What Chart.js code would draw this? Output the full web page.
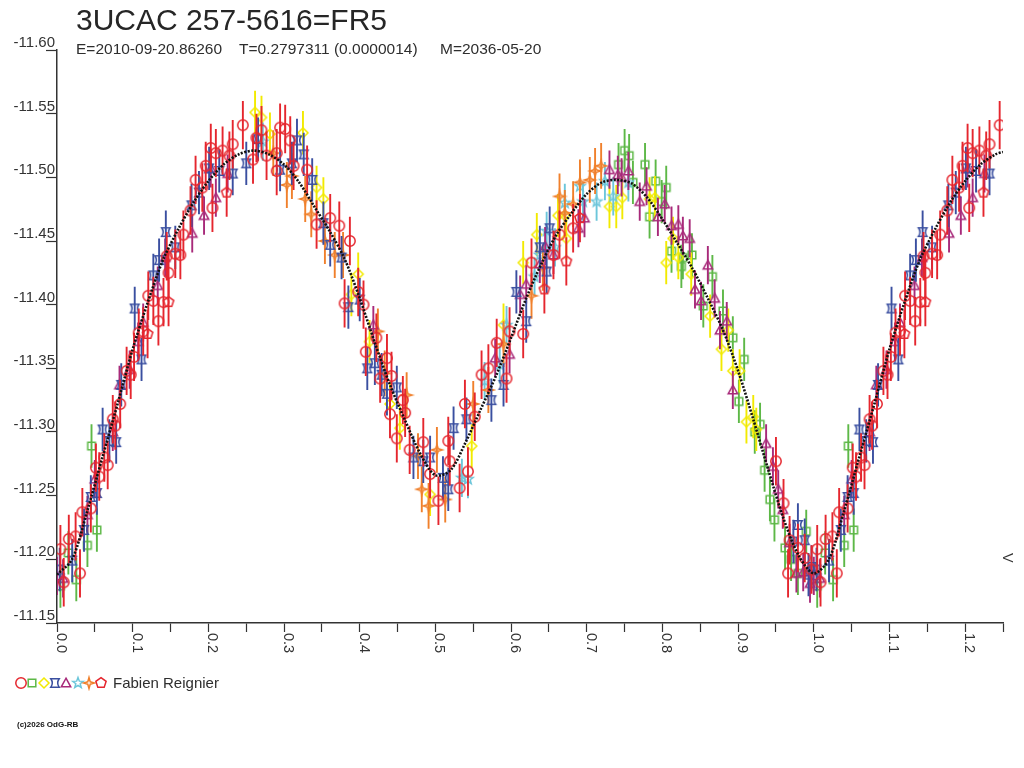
<!DOCTYPE html>
<html>
<head>
<meta charset="utf-8">
<title>3UCAC 257-5616=FR5</title>
<script src="https://cdn.jsdelivr.net/npm/chart.js@4.4.1/dist/chart.umd.min.js"></script>
<style>
  html, body { margin: 0; padding: 0; background: #fff; }
  #wrap { position: relative; width: 1024px; height: 768px; overflow: hidden; font-family: "Liberation Sans", Arial, sans-serif; }
  #lc { position: absolute; left: 0; top: 0; width: 1024px; height: 768px; }
  .txt { position: absolute; white-space: pre; color: #2e2e2e; }
  #title { left: 76px; top: 5px; font-size: 30px; line-height: 30px; color: #262626; }
  .sub { top: 41px; font-size: 15.5px; line-height: 15.5px; }
  #observer { left: 113px; top: 675px; font-size: 15px; line-height: 15px; }
  #copy { left: 17px; top: 721px; font-size: 8px; line-height: 8px; font-weight: bold; color: #111; }
</style>
</head>
<body>
<div id="wrap">
  <canvas id="lc" width="1024" height="768"></canvas>
  <div class="txt" id="title">3UCAC 257-5616=FR5</div>
  <div class="txt sub" style="left:76px">E=2010-09-20.86260</div>
  <div class="txt sub" style="left:239px">T=0.2797311 (0.0000014)</div>
  <div class="txt sub" style="left:440px">M=2036-05-20</div>
  <div class="txt" id="observer">Fabien Reignier</div>
  <div class="txt" id="copy">(c)2026 OdG-RB</div>
</div>
<script>
/* ================================================================
   Light curve, phase folded (period 0.2797311 d)
   ================================================================ */

/* --- Axes --- */
const xTicks = [0, 0.05, 0.1, 0.15, 0.2, 0.25, 0.3, 0.35, 0.4, 0.45, 0.5, 0.55, 0.6, 0.65,
    0.7, 0.75, 0.8, 0.85, 0.9, 0.95, 1.0, 1.05, 1.1, 1.15, 1.2, 1.25];
const xLabelValues = [0, 0.1, 0.2, 0.3, 0.4, 0.5, 0.6, 0.7, 0.8, 0.9, 1.0, 1.1, 1.2];
const xLabels = ['0.0', '0.1', '0.2', '0.3', '0.4', '0.5', '0.6', '0.7', '0.8', '0.9', '1.0', '1.1', '1.2'];
const yTicks = [-11.60, -11.55, -11.50, -11.45, -11.40, -11.35, -11.30, -11.25, -11.20, -11.15];
const bandName = 'V';

/* --- Fit curve --- */
const fitPhase = [0, 0.02, 0.04, 0.06, 0.08, 0.10, 0.12, 0.14, 0.16, 0.18, 0.20, 0.22, 0.24, 0.26, 0.28,
    0.30, 0.32, 0.34, 0.36, 0.38, 0.40, 0.42, 0.44, 0.46, 0.48, 0.50, 0.52, 0.54, 0.56, 0.58,
    0.60, 0.62, 0.64, 0.66, 0.68, 0.70, 0.72, 0.74, 0.76, 0.78, 0.80, 0.82, 0.84, 0.86, 0.88,
    0.90, 0.92, 0.94, 0.96, 0.98, 1.00, 1.02, 1.04, 1.06, 1.08, 1.10, 1.12, 1.14, 1.16, 1.18,
    1.20, 1.22, 1.24, 1.25];
const fitMag = [-11.188, -11.200, -11.238, -11.280, -11.322, -11.365, -11.402, -11.435, -11.459, -11.480,
    -11.497, -11.510, -11.518, -11.521, -11.518, -11.510, -11.496, -11.477, -11.458, -11.436,
    -11.405, -11.370, -11.337, -11.309, -11.283, -11.266, -11.270, -11.292, -11.318, -11.344,
    -11.374, -11.405, -11.432, -11.455, -11.472, -11.487, -11.496, -11.498, -11.495, -11.484,
    -11.467, -11.448, -11.428, -11.405, -11.380, -11.348, -11.310, -11.270, -11.232, -11.203,
    -11.189, -11.200, -11.238, -11.280, -11.322, -11.365, -11.402, -11.435, -11.459, -11.480,
    -11.497, -11.510, -11.518, -11.520];

/* --- Observations (phase 0..1, repeated past 1 up to 1.25) --- */
const circlePhase = [0.0045, 0.0089, 0.0156, 0.0246, 0.0304, 0.0335, 0.0447, 0.0514, 0.0558, 0.0625,
    0.0670, 0.0737, 0.0835, 0.0974, 0.1018, 0.1139, 0.1206, 0.1273, 0.1340, 0.1407,
    0.1474, 0.1563, 0.1630, 0.1764, 0.1831, 0.1920, 0.1965, 0.2032, 0.2054, 0.2099,
    0.2188, 0.2278, 0.2322, 0.2456, 0.2590, 0.2635, 0.2702, 0.2769, 0.2903, 0.2948,
    0.3015, 0.3082, 0.2903, 0.3126, 0.3305, 0.343, 0.361, 0.373, 0.387, 0.380,
    0.398, 0.405, 0.408, 0.422, 0.427, 0.436, 0.442, 0.440, 0.449, 0.457,
    0.460, 0.466, 0.484, 0.493, 0.504, 0.517, 0.519, 0.532, 0.539, 0.543,
    0.552, 0.561, 0.570, 0.581, 0.594, 0.598, 0.616, 0.627, 0.656, 0.664,
    0.682, 0.950, 0.960, 0.966, 0.968, 0.979, 0.988, 0.997, 0.167, 0.145,
    0.108, 0.092, 0.077];
const circleMag = [-11.208, -11.182, -11.216, -11.218, -11.189, -11.237, -11.240, -11.272, -11.265, -11.280,
    -11.274, -11.310, -11.322, -11.345, -11.359, -11.379, -11.407, -11.403, -11.387, -11.402,
    -11.425, -11.440, -11.439, -11.474, -11.498, -11.492, -11.509, -11.523, -11.476, -11.519,
    -11.521, -11.517, -11.526, -11.541, -11.514, -11.531, -11.537, -11.517, -11.519, -11.539,
    -11.538, -11.529, -11.505, -11.509, -11.506, -11.463, -11.468, -11.462, -11.450, -11.401,
    -11.410, -11.400, -11.363, -11.374, -11.342, -11.358, -11.344, -11.314, -11.295, -11.325,
    -11.315, -11.286, -11.292, -11.267, -11.246, -11.293, -11.277, -11.256, -11.322, -11.269,
    -11.312, -11.345, -11.350, -11.370, -11.342, -11.379, -11.377, -11.433, -11.439, -11.455,
    -11.460, -11.277, -11.244, -11.189, -11.215, -11.209, -11.201, -11.192, -11.455, -11.438,
    -11.378, -11.348, -11.305];
const circleErr = 0.019;

const squarePhase = [0.0045, 0.0150, 0.0255, 0.0402, 0.0456, 0.0527, 0.742, 0.750, 0.756, 0.761,
    0.777, 0.783, 0.791, 0.799, 0.805, 0.812, 0.825, 0.827, 0.839, 0.854,
    0.866, 0.880, 0.893, 0.901, 0.908, 0.922, 0.929, 0.935, 0.942, 0.948,
    0.962, 0.970, 0.979, 0.990];
const squareMag = [-11.179, -11.205, -11.184, -11.211, -11.289, -11.223, -11.510, -11.521, -11.517, -11.496,
    -11.510, -11.469, -11.497, -11.481, -11.492, -11.442, -11.430, -11.437, -11.439, -11.399,
    -11.422, -11.395, -11.374, -11.324, -11.357, -11.300, -11.306, -11.270, -11.247, -11.231,
    -11.209, -11.200, -11.189, -11.222];
const squareErr = 0.017;

const diamondPhase = [0.2617, 0.2702, 0.2814, 0.325, 0.343, 0.352, 0.389, 0.398, 0.413, 0.440,
    0.453, 0.493, 0.548, 0.590, 0.616, 0.634, 0.662, 0.671, 0.673, 0.730,
    0.739, 0.747, 0.783, 0.790, 0.805, 0.814, 0.821, 0.838, 0.863, 0.878,
    0.887, 0.893, 0.902, 0.911, 0.920, 0.924];
const diamondMag = [-11.551, -11.547, -11.534, -11.535, -11.492, -11.483, -11.408, -11.424, -11.371, -11.322,
    -11.303, -11.251, -11.289, -11.384, -11.433, -11.455, -11.470, -11.470, -11.452, -11.477,
    -11.477, -11.484, -11.483, -11.484, -11.433, -11.452, -11.437, -11.424, -11.391, -11.365,
    -11.380, -11.348, -11.348, -11.308, -11.312, -11.302];
const diamondErr = 0.017;

const bowtiePhase = [0.0036, 0.0201, 0.0357, 0.0447, 0.0527, 0.0603, 0.0692, 0.0782, 0.0849, 0.1027,
    0.1117, 0.1273, 0.1349, 0.1438, 0.1563, 0.1778, 0.1876, 0.2010, 0.2144, 0.2322,
    0.2501, 0.2657, 0.2948, 0.3104, 0.3171, 0.3260, 0.3372, 0.352, 0.361, 0.376,
    0.385, 0.400, 0.410, 0.420, 0.429, 0.436, 0.449, 0.471, 0.484, 0.493,
    0.510, 0.517, 0.524, 0.541, 0.574, 0.590, 0.607, 0.620, 0.638, 0.647,
    0.651, 0.973, 0.979, 0.988, 0.993, 0.997];
const bowtieMag = [-11.192, -11.199, -11.223, -11.249, -11.252, -11.302, -11.293, -11.292, -11.337, -11.397,
    -11.357, -11.423, -11.435, -11.457, -11.445, -11.478, -11.488, -11.507, -11.505, -11.503,
    -11.511, -11.530, -11.506, -11.511, -11.529, -11.518, -11.498, -11.464, -11.447, -11.437,
    -11.398, -11.404, -11.350, -11.354, -11.345, -11.330, -11.335, -11.280, -11.277, -11.280,
    -11.264, -11.255, -11.303, -11.310, -11.325, -11.337, -11.410, -11.387, -11.445, -11.426,
    -11.460, -11.214, -11.227, -11.215, -11.188, -11.194];
const bowtieErr = 0.017;

const trianglePhase = [0.0000, 0.0080, 0.0402, 0.0500, 0.0737, 0.0826, 0.0960, 0.1072, 0.1139, 0.1331,
    0.1429, 0.1787, 0.1943, 0.2032, 0.2099, 0.2255, 0.418, 0.579, 0.598, 0.612,
    0.620, 0.638, 0.645, 0.656, 0.689, 0.697, 0.730, 0.741, 0.746, 0.755,
    0.770, 0.779, 0.794, 0.803, 0.812, 0.821, 0.827, 0.836, 0.843, 0.851,
    0.860, 0.869, 0.876, 0.885, 0.893, 0.937, 0.946, 0.953, 0.959, 0.968,
    0.977, 0.986, 0.995];
const triangleMag = [-11.187, -11.185, -11.235, -11.263, -11.300, -11.337, -11.349, -11.371, -11.386, -11.415,
    -11.437, -11.456, -11.470, -11.507, -11.484, -11.503, -11.384, -11.358, -11.361, -11.408,
    -11.416, -11.432, -11.446, -11.439, -11.460, -11.468, -11.506, -11.502, -11.500, -11.505,
    -11.481, -11.493, -11.469, -11.479, -11.462, -11.463, -11.454, -11.452, -11.412, -11.403,
    -11.431, -11.405, -11.380, -11.387, -11.333, -11.291, -11.273, -11.255, -11.239, -11.213,
    -11.189, -11.190, -11.181];
const triangleErr = 0.015;

const starPhase = [0.272, 0.535, 0.543, 0.565, 0.585, 0.594, 0.631, 0.638, 0.647, 0.658,
    0.671, 0.691, 0.695, 0.713, 0.724, 0.735, 0.755];
const starMag = [-11.528, -11.264, -11.263, -11.340, -11.353, -11.384, -11.422, -11.439, -11.458, -11.445,
    -11.480, -11.493, -11.481, -11.481, -11.497, -11.485, -11.496];
const starErr = 0.015;

const sparkPhase = [0.2858, 0.3037, 0.3104, 0.328, 0.336, 0.354, 0.367, 0.378, 0.424, 0.433,
    0.462, 0.477, 0.482, 0.491, 0.502, 0.513, 0.550, 0.570, 0.590, 0.627,
    0.642, 0.664, 0.671, 0.682, 0.691, 0.704, 0.711, 0.719];
const sparkMag = [-11.519, -11.494, -11.501, -11.483, -11.471, -11.450, -11.439, -11.439, -11.379, -11.346,
    -11.329, -11.281, -11.255, -11.242, -11.286, -11.247, -11.322, -11.333, -11.369, -11.407,
    -11.429, -11.485, -11.472, -11.479, -11.496, -11.498, -11.505, -11.509];
const sparkErr = 0.018;

const pentagonPhase = [0.1197, 0.1474, 0.2242, 0.644, 0.673, 0.691];
const pentagonMag = [-11.377, -11.402, -11.488, -11.412, -11.434, -11.468];
const pentagonErr = 0.019;

/* --- Symboles --- */
function makeSymbol(shape, color) {
    const c = document.createElement('canvas');
    c.width = 16; c.height = 16;
    const g = c.getContext('2d');
    g.translate(8, 8);
    g.strokeStyle = color;
    g.lineWidth = 1.5;
    g.beginPath();
    const poly = (pts) => { pts.forEach((p, i) => i ? g.lineTo(p[0], p[1]) : g.moveTo(p[0], p[1])); g.closePath(); };
    const radial = (n, rOut, rIn, start) => {
        const pts = [];
        const k = rIn ? 2 * n : n;
        for (let i = 0; i < k; i++) {
            const r = rIn && i % 2 ? rIn : rOut;
            const a = start + i * 2 * Math.PI / k;
            pts.push([r * Math.cos(a), r * Math.sin(a)]);
        }
        poly(pts);
    };
    switch (shape) {
        case 'circle': g.arc(0, 0, 5.2, 0, 2 * Math.PI); break;
        case 'square': g.rect(-3.8, -3.8, 7.6, 7.6); break;
        case 'diamond': poly([[0, -5], [5, 0], [0, 5], [-5, 0]]); break;
        case 'bowtie':
            g.moveTo(-4.2, -4.2); g.lineTo(4.2, -4.2);
            g.quadraticCurveTo(1.2, 0, 4.2, 4.2);
            g.lineTo(-4.2, 4.2);
            g.quadraticCurveTo(-1.2, 0, -4.2, -4.2);
            g.closePath();
            break;
        case 'triangle': poly([[0, -4.8], [4.7, 3.8], [-4.7, 3.8]]); break;
        case 'star': radial(5, 5.5, 2.3, -Math.PI / 2); break;
        case 'spark': radial(4, 5.6, 1.7, -Math.PI / 2); break;
        case 'pentagon': radial(5, 5.4, 0, -Math.PI / 2); break;
    }
    g.stroke();
    return c;
}

const series = [
    { phase: circlePhase, mag: circleMag, err: circleErr, shape: 'circle', color: '#e5262e' },
    { phase: pentagonPhase, mag: pentagonMag, err: pentagonErr, shape: 'pentagon', color: '#e5262e' },
    { phase: bowtiePhase, mag: bowtieMag, err: bowtieErr, shape: 'bowtie', color: '#3a4fa0' },
    { phase: trianglePhase, mag: triangleMag, err: triangleErr, shape: 'triangle', color: '#a82a7a' },
    { phase: sparkPhase, mag: sparkMag, err: sparkErr, shape: 'spark', color: '#f0802c' },
    { phase: starPhase, mag: starMag, err: starErr, shape: 'star', color: '#6cc6da' },
    { phase: diamondPhase, mag: diamondMag, err: diamondErr, shape: 'diamond', color: '#f2ea00' },
    { phase: squarePhase, mag: squareMag, err: squareErr, shape: 'square', color: '#5db847' }
];
const legendOrder = ['circle', 'square', 'diamond', 'bowtie', 'triangle', 'star', 'spark', 'pentagon'];
series.forEach(s => { s.symbol = makeSymbol(s.shape, s.color); });

function folded(phase, mag) {
    const pts = [];
    phase.forEach((p, i) => {
        pts.push({ x: p, y: mag[i] });
        if (p + 1 <= 1.25) pts.push({ x: p + 1, y: mag[i] });
    });
    return pts;
}

/* --- Plugins --- */
const errorBars = {
    id: 'errorBars',
    beforeDatasetDraw(chart, args) {
        const ds = chart.data.datasets[args.index];
        if (!ds.err) return;
        const ys = chart.scales.y, area = chart.chartArea, ctx = chart.ctx;
        ctx.save();
        ctx.beginPath();
        ctx.rect(area.left, area.top, area.right - area.left, area.bottom - area.top);
        ctx.clip();
        ctx.beginPath();
        ctx.strokeStyle = ds.barColor;
        ctx.lineWidth = 1.9;
        args.meta.data.forEach((el, i) => {
            const v = ds.data[i].y;
            ctx.moveTo(el.x, ys.getPixelForValue(v - ds.err));
            ctx.lineTo(el.x, ys.getPixelForValue(v + ds.err));
        });
        ctx.stroke();
        ctx.restore();
    }
};

const decorations = {
    id: 'decorations',
    afterDraw(chart) {
        const ctx = chart.ctx, xs = chart.scales.x, area = chart.chartArea;
        ctx.save();
        ctx.fillStyle = '#333';
        ctx.font = '14.5px "Liberation Sans", Arial, sans-serif';
        ctx.textAlign = 'left';
        ctx.textBaseline = 'alphabetic';
        xLabelValues.forEach((v, i) => {
            ctx.save();
            ctx.translate(xs.getPixelForValue(v), area.bottom + 10);
            ctx.rotate(Math.PI / 2);
            ctx.fillText(xLabels[i], 0, 0);
            ctx.restore();
        });
        ctx.save();
        ctx.translate(area.right, 553);
        ctx.rotate(Math.PI / 2);
        ctx.fillText(bandName, 0, 0);
        ctx.restore();
        legendOrder.forEach((shape, i) => {
            const s = series.find(d => d.shape === shape);
            ctx.drawImage(s.symbol, Math.round(20.7 + i * 11.4) - 8, 683 - 8);
        });
        ctx.restore();
    }
};

/* --- Chart --- */
const datasets = [{
    label: 'fit',
    data: fitPhase.map((p, i) => ({ x: p, y: fitMag[i] })),
    showLine: true,
    borderColor: '#111',
    borderWidth: 2.6,
    borderDash: [2, 1.5],
    tension: 0.3,
    pointRadius: 0
}];
series.forEach(s => {
    datasets.push({
        label: s.shape,
        data: folded(s.phase, s.mag),
        err: s.err,
        barColor: s.color,
        pointStyle: s.symbol,
        pointRadius: 5,
        borderColor: s.color,
        backgroundColor: 'transparent'
    });
});

Chart.defaults.font.family = '"Liberation Sans", Arial, sans-serif';

new Chart(document.getElementById('lc'), {
    type: 'scatter',
    data: { datasets },
    plugins: [errorBars, decorations],
    options: {
        responsive: false,
        animation: false,
        events: [],
        layout: { padding: { top: 50, right: 21, bottom: 0, left: 0 } },
        plugins: { legend: { display: false }, tooltip: { enabled: false }, title: { display: false } },
        scales: {
            x: {
                type: 'linear',
                min: 0,
                max: 1.25,
                afterBuildTicks: s => { s.ticks = xTicks.map(v => ({ value: v })); },
                afterFit: s => { s.height = 145; },
                ticks: { display: false },
                grid: { drawOnChartArea: false, drawTicks: true, tickLength: 9, tickColor: '#333', tickWidth: 1.2 },
                border: { display: true, color: '#333', width: 1.5 }
            },
            y: {
                type: 'linear',
                reverse: true,
                min: -11.60,
                max: -11.15,
                afterBuildTicks: s => { s.ticks = yTicks.map(v => ({ value: v })); },
                afterFit: s => { s.width = 57; },
                ticks: {
                    callback: v => v.toFixed(2),
                    color: '#333',
                    font: { size: 15 },
                    padding: -9,
                    labelOffset: -7
                },
                grid: { drawOnChartArea: false, drawTicks: true, tickLength: 11, tickColor: '#333', tickWidth: 1.2 },
                border: { display: true, color: '#333', width: 1.5 }
            }
        }
    }
});
</script>
</body>
</html>
